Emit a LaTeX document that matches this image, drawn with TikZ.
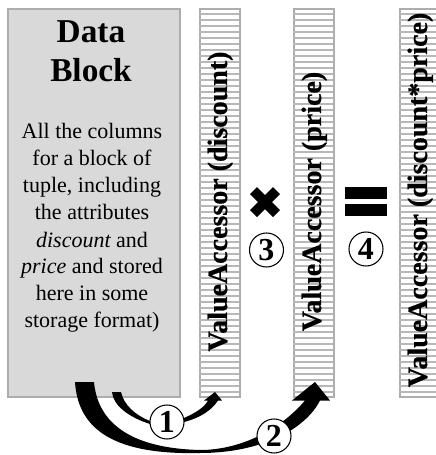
\documentclass[tikz,border=0pt]{standalone}
\usepackage{fontspec}
\setmainfont{Liberation Serif}
\newfontfamily\heavyserif[FakeBold=0.6]{Liberation Serif Bold}
\definecolor{blockgray}{gray}{0.85}
\definecolor{edgegray}{gray}{0.68}
\definecolor{stripegray}{gray}{0.72}
\tikzset{
  px/.style={x=0.75pt,y=-0.75pt},
  barbox/.style={draw=edgegray,line width=1.4pt,fill=white},
  bartext/.style={rotate=90,font=\heavyserif\fontsize{21}{21}\selectfont,inner sep=0pt,anchor=base},
  numcircle/.style={circle,draw=black,line width=0.8pt,fill=white,minimum size=25.5pt,inner sep=0pt,font=\bfseries\fontsize{24}{24}\selectfont},
  arrowfill/.style={fill=black,draw=none},
  bodytext/.style={font=\fontsize{16.5}{16.5}\selectfont,inner sep=0pt,anchor=base},
  titletext/.style={font=\bfseries\fontsize{25}{25}\selectfont,inner sep=0pt,anchor=base},
  stripe/.style={draw=stripegray,line width=1.1pt}
}
\begin{document}
\begin{tikzpicture}[px]
\useasboundingbox (0,0) rectangle (436,455);
\clip (0,0) rectangle (436,455);
\node[draw=edgegray,line width=1.4pt,fill=blockgray,minimum width=129pt,minimum height=291pt,inner sep=0pt,anchor=north west] (block) at (7,8) {};
\foreach \n/\xx in {barA/199,barB/293,barC/399}{
  \node[barbox,minimum width=30pt,minimum height=291pt,inner sep=0pt,anchor=north west] (\n) at (\xx,8) {};
  \foreach \yy in {14,20,...,392}{
    \draw[stripe] (\xx,\yy) -- ++(40,0);
  }
}
\node[titletext] (t1) at (91,42) {Data};
\node[titletext] (t2) at (91,81) {Block};
\node[bodytext] (l1) at (92,138) {All the columns};
\node[bodytext] (l2) at (92,165) {for a block of};
\node[bodytext] (l3) at (92,192) {tuple, including};
\node[bodytext] (l4) at (92,219) {the attributes};
\node[bodytext] (l5) at (92,247) {\itshape discount\upshape\ and};
\node[bodytext] (l6) at (92,273) {\itshape price\upshape\ and stored};
\node[bodytext] (l7) at (92,300) {here in some};
\node[bodytext] (l8) at (92,327) {storage format)};
\node[bartext] (v1) at (227,201.5) {ValueAccessor (discount)};
\node[bartext] (v2) at (321,201.5) {ValueAccessor (price)};
\node[bartext] (v3) at (427,200) {ValueAccessor (discount*price)};
% multiply sign
\fill (250,194) -- (257,187) -- (265,195) -- (273,187) -- (280,194) -- (272,202) -- (280,210) -- (273,217) -- (265,209) -- (257,217) -- (250,210) -- (258,202) -- cycle;
% equals sign
\node[fill=black,minimum width=31.5pt,minimum height=9.2pt,inner sep=0pt] (eqA) at (366,193) {};
\node[fill=black,minimum width=31.5pt,minimum height=9.2pt,inner sep=0pt] (eqB) at (366,210) {};
% arrows
\coordinate (s1) at (112,392);
\coordinate (e1) at (215,392);
\coordinate (s2) at (75,382);
\coordinate (e2) at (315,382);
\fill[arrowfill] (s1) -- (121,392) .. controls (124,405) and (135,415) .. (150,421)
  -- (184,418) .. controls (195,413) and (204,408) .. (208,400.5) -- (204,400.5) -- (e1) -- (222,400.5) -- (218,400.5)
  .. controls (212,410) and (200,418) .. (184,422) -- (150,424) .. controls (128,417) and (113,405) .. (s1) -- cycle;
\fill[arrowfill] (s2) -- (94,382) .. controls (97,415) and (120,448) .. (200,450)
  .. controls (240,450) and (280,430) .. (305,400.5) -- (292,400.5) -- (e2) -- (330,400.5) -- (320,400.5)
  .. controls (305,430) and (260,453) .. (200,453) .. controls (115,455) and (78,430) .. (s2) -- cycle;
\node[numcircle] (c1) at (167,422) {1};
\node[numcircle] (c2) at (274,436) {2};
\node[numcircle] (c3) at (266.5,250) {3};
\node[numcircle] (c4) at (366,249) {4};
\end{tikzpicture}
\end{document}
